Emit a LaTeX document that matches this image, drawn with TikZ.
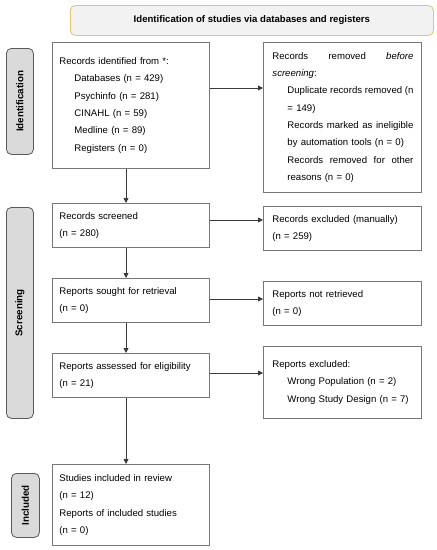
\documentclass[tikz,border=0pt]{standalone}
\usepackage{fontspec}
\setmainfont{Liberation Sans}
\usetikzlibrary{arrows.meta}
\definecolor{boxline}{HTML}{777777}
\definecolor{arrowc}{HTML}{3A3A3A}
\definecolor{headfill}{HTML}{F2F2F2}
\definecolor{headline}{HTML}{E6C46E}
\definecolor{sidefill}{HTML}{DADADA}
\definecolor{sideline}{HTML}{5A5A5A}
\tikzset{
  bodytext/.style={font=\fontsize{9.6}{17.3}\selectfont},
  leftbox/.style={draw=boxline, line width=0.9pt, bodytext, align=left,
    text width=143pt, inner xsep=7pt, inner ysep=0pt, minimum width=157pt, anchor=north west},
  rightbox/.style={draw=boxline, line width=0.9pt, bodytext, align=left,
    text width=140pt, inner xsep=9pt, inner ysep=0pt, minimum width=158pt, anchor=north west},
  sidebox/.style={draw=sideline, fill=sidefill, line width=0.8pt, rounded corners=5pt,
    anchor=north west, inner sep=0pt},
  sidelabel/.style={font=\fontsize{9.8}{11}\selectfont\bfseries, rotate=90},
  flow/.style={draw=arrowc, line width=0.8pt, -{Triangle[length=5pt,width=5pt]}},
}
\begin{document}
\begin{tikzpicture}[x=1pt,y=-1pt]
\useasboundingbox (0,0) rectangle (437,550);
% header
\node[draw=headline, fill=headfill, line width=0.8pt, rounded corners=5pt,
  minimum width=363pt, minimum height=30pt, anchor=north west, inner sep=0pt,
  font=\fontsize{9.6}{11}\selectfont\bfseries] (head) at (70,5)
  {Identification of studies via databases and registers};
% side labels
\node[sidebox, minimum width=27pt, minimum height=106pt] (sid) at (6,48) {};
\node[sidelabel] (sidt) at (sid.center) {Identification};
\node[sidebox, minimum width=27pt, minimum height=211pt] (ssc) at (6,207) {};
\node[sidelabel] (ssct) at (ssc.center) {Screening};
\node[sidebox, minimum width=28pt, minimum height=64pt] (sin) at (11,473) {};
\node[sidelabel] (sint) at (sin.center) {Included};
% left column
\node[leftbox, minimum height=126pt] (ident) at (52,42)
  {Records identified from *:\\
   \hspace*{15pt}Databases (n = 429)\\
   \hspace*{15pt}Psychinfo (n = 281)\\
   \hspace*{15pt}CINAHL (n = 59)\\
   \hspace*{15pt}Medline (n = 89)\\
   \hspace*{15pt}Registers (n = 0)};
\node[leftbox, minimum height=44pt] (screen) at (52,203)
  {Records screened\\(n = 280)};
\node[leftbox, minimum height=44pt] (sought) at (52,278)
  {Reports sought for retrieval\\(n = 0)};
\node[leftbox, minimum height=44pt] (assess) at (52,353)
  {Reports assessed for eligibility\\(n = 21)};
\node[leftbox, minimum height=81pt] (incl) at (52,464)
  {Studies included in review\\(n = 12)\\Reports of included studies\\(n = 0)};
% right column
\node[rightbox, minimum height=150pt] (removed) at (263,42)
  {\hbox to 141pt{Records\hfill removed\hfill \textit{before}}\\
   \textit{screening}:\\
   \hspace*{15pt}\hbox to 126pt{Duplicate\hfill records\hfill removed\hfill (n}\\
   \hspace*{15pt}= 149)\\
   \hspace*{15pt}\hbox to 126pt{Records\hfill marked\hfill as\hfill ineligible}\\
   \hspace*{15pt}by automation tools (n = 0)\\
   \hspace*{15pt}\hbox to 126pt{Records\hfill removed\hfill for\hfill other}\\
   \hspace*{15pt}reasons (n = 0)};
\node[rightbox, minimum height=44pt] (excl) at (263,206)
  {Records excluded (manually)\\(n = 259)};
\node[rightbox, minimum height=44pt] (notret) at (263,281)
  {Reports not retrieved\\(n = 0)};
\node[rightbox, minimum height=72pt] (repexcl) at (263,346)
  {Reports excluded:\\
   \hspace*{15pt}Wrong Population (n = 2)\\
   \hspace*{15pt}Wrong Study Design (n = 7)};
% arrows
\draw[flow] (ident.east |- 0,88) -- (removed.west |- 0,88);
\draw[flow] (screen.east |- 0,220) -- (excl.west |- 0,220);
\draw[flow] (sought.east |- 0,299) -- (notret.west |- 0,299);
\draw[flow] (assess.east |- 0,373) -- (repexcl.west |- 0,373);
\draw[flow] (ident.south -| 126,0) -- (screen.north -| 126,0);
\draw[flow] (screen.south -| 126,0) -- (sought.north -| 126,0);
\draw[flow] (sought.south -| 126,0) -- (assess.north -| 126,0);
\draw[flow] (assess.south -| 126,0) -- (incl.north -| 126,0);
\end{tikzpicture}
\end{document}
